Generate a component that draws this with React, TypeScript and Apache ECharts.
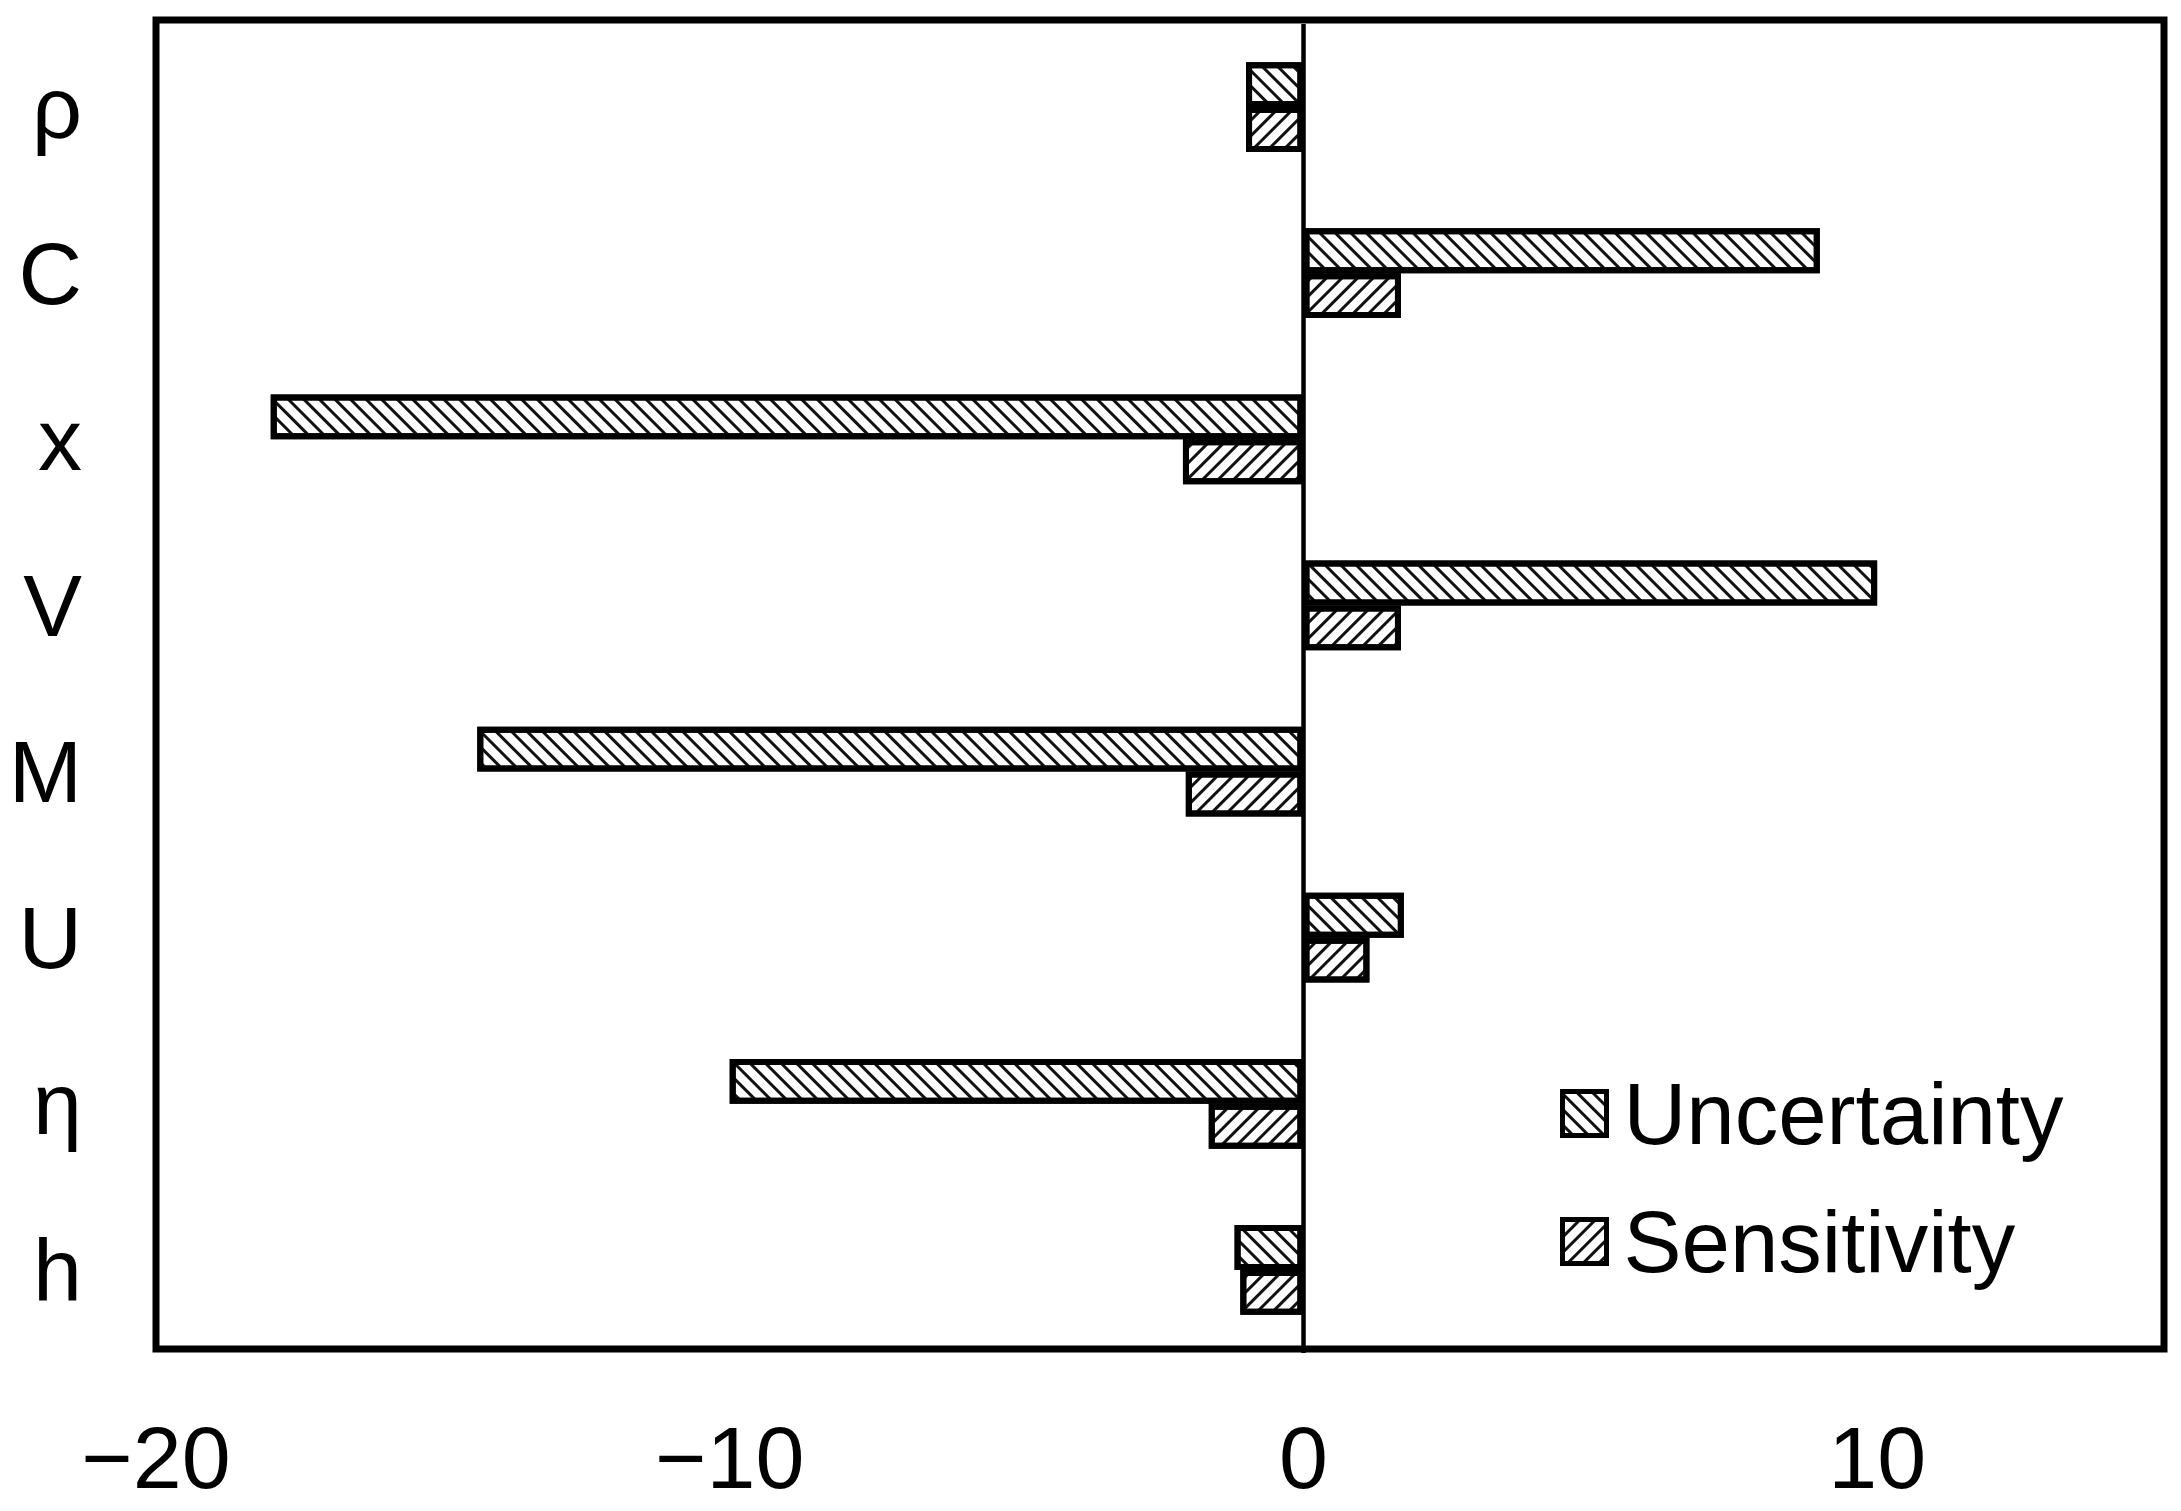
import React, { useEffect, useRef } from "react";
import * as echarts from "echarts";

const categories = ["ρ", "C", "x", "V", "M", "U", "η", "h"];
const uncertainty = [-1.0, 9.0, -18.0, 10.0, -14.4, 1.75, -10.0, -1.2];
const sensitivity = [-1.0, 1.7, -2.1, 1.7, -2.05, 1.15, -1.65, -1.1];
const seriesNames = ["Uncertainty", "Sensitivity"];
const xMin = -20;
const xMax = 15;
const xInterval = 10;

const FONT = "'Liberation Sans', Arial, sans-serif";

function hatch(rotation: number) {
  return {
    symbol: "rect",
    symbolSize: 1,
    color: "#111",
    dashArrayX: [1, 0],
    dashArrayY: [3, 8],
    rotation,
  };
}

export default function App() {
  const ref = useRef<HTMLDivElement>(null);
  useEffect(() => {
    if (!ref.current) return;
    const chart = echarts.init(ref.current, undefined, { renderer: "svg" });
    const barStyle = (rot: number) => ({
      color: "#fff",
      borderColor: "#000",
      borderWidth: 6,
      decal: hatch(rot),
    });
    chart.setOption({
      animation: false,
      backgroundColor: "#fff",
      grid: {
        left: 156,
        right: 17,
        top: 24,
        bottom: 158,
        show: false,
      },
      graphic: [
        {
          type: "rect",
          shape: { x: 156, y: 20, width: 2008, height: 1329 },
          style: { fill: "none", stroke: "#000", lineWidth: 7 },
          z: 10,
          silent: true,
        },
      ],
      xAxis: {
        type: "value",
        min: xMin,
        max: xMax,
        interval: xInterval,
        splitLine: { show: false },
        axisLine: { show: false },
        axisTick: { show: false },
        axisLabel: {
          showMaxLabel: false,
          fontSize: 88,
          fontFamily: FONT,
          color: "#000",
          margin: 60,
          formatter: (v: number) => (v < 0 ? "\u2212" + Math.abs(v) : String(v)),
        },
      },
      yAxis: {
        type: "category",
        data: categories,
        inverse: true,
        axisLine: { show: false },
        axisTick: { show: false },
        splitLine: { show: false },
        axisLabel: {
          fontSize: 88,
          fontFamily: FONT,
          color: "#000",
          margin: 74,
        },
      },
      legend: {
        orient: "vertical",
        left: 1555,
        top: 1065,
        itemWidth: 44,
        itemHeight: 44,
        itemGap: 41,
        icon: "rect",
        itemStyle: { borderColor: "#000", borderWidth: 5 },
        textStyle: {
          fontSize: 87,
          fontFamily: FONT,
          color: "#000",
          padding: [0, 0, 0, 12],
        },
        data: seriesNames,
      },
      series: [
        {
          name: seriesNames[0],
          type: "bar",
          data: uncertainty,
          barWidth: "27%",
          barGap: "0%",
          itemStyle: barStyle(Math.PI / 4),
          markLine: {
            silent: true,
            symbol: "none",
            label: { show: false },
            lineStyle: { color: "#000", width: 4.5, type: "solid" },
            data: [{ xAxis: 0 }],
          },
          z: 3,
        },
        {
          name: seriesNames[1],
          type: "bar",
          data: sensitivity,
          barWidth: "27%",
          barGap: "0%",
          itemStyle: barStyle(-Math.PI / 4),
          z: 3,
        },
      ],
    });
    return () => chart.dispose();
  }, []);
  return (
    <div
      ref={ref}
      style={{ position: "fixed", left: 0, top: 0, width: 2181, height: 1511 }}
    />
  );
}
